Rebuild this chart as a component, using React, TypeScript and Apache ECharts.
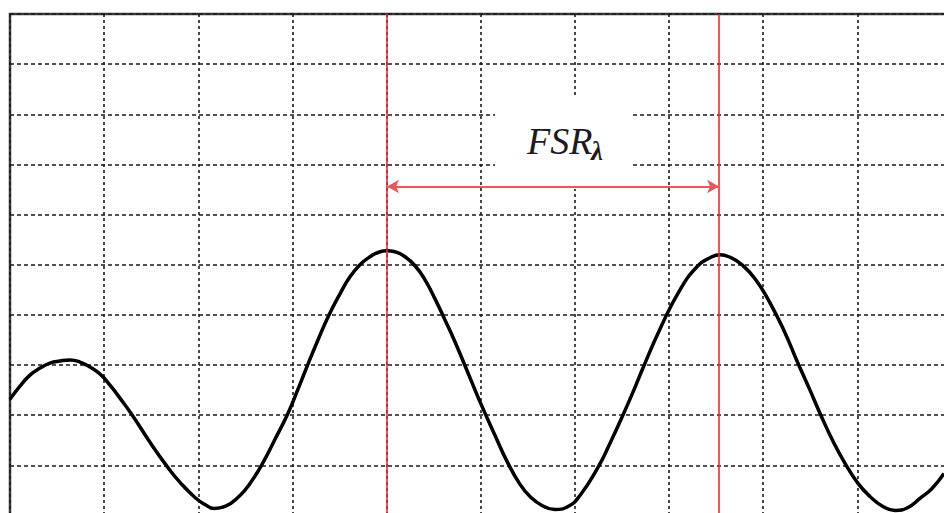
import React, { useEffect, useRef } from "react";
import * as echarts from "echarts";

// Horizontal position in screen divisions (0..10), vertical in divisions (0..10)
const traceX: number[] = [
  0, 0.106, 0.212, 0.319, 0.425, 0.531, 0.637, 0.743, 0.85, 0.956,
  1.062, 1.168, 1.306, 1.487, 1.668, 1.806, 1.965, 2.071, 2.167, 2.284,
  2.443, 2.549, 2.677, 2.815, 2.953, 3.059, 3.165, 3.271, 3.378, 3.505,
  3.611, 3.717, 3.824, 3.93, 4.004, 4.089, 4.195, 4.302, 4.408, 4.514,
  4.62, 4.727, 4.896, 5.003, 5.151, 5.279, 5.417, 5.523, 5.651, 5.789,
  5.927, 6.054, 6.245, 6.373, 6.5, 6.617, 6.723, 6.904, 7.116, 7.307,
  7.435, 7.541, 7.658, 7.775, 7.913, 8.072, 8.232, 8.359, 8.497, 8.603,
  8.731, 8.869, 9.007, 9.134, 9.272, 9.4, 9.538, 9.665, 9.793, 9.92,
];
const traceY: number[] = [
  2.32, 2.58, 2.8, 2.94, 3.04, 3.08, 3.1, 3.06, 2.96, 2.82,
  2.6, 2.34, 1.98, 1.46, 0.98, 0.66, 0.36, 0.22, 0.14, 0.18,
  0.4, 0.64, 1.02, 1.52, 2.04, 2.52, 3.02, 3.5, 3.96, 4.42,
  4.76, 5.0, 5.16, 5.26, 5.28, 5.26, 5.16, 4.98, 4.7, 4.32,
  3.9, 3.46, 2.7, 2.22, 1.6, 1.08, 0.62, 0.38, 0.2, 0.12,
  0.18, 0.4, 0.96, 1.44, 1.96, 2.46, 2.94, 3.72, 4.5, 4.98,
  5.14, 5.2, 5.14, 5.0, 4.72, 4.24, 3.64, 3.08, 2.5, 2.04,
  1.52, 1.04, 0.64, 0.38, 0.18, 0.1, 0.16, 0.34, 0.54, 0.84,
];

// Peak markers (divisions) and FSR arrow level (divisions)
const peakMarkers: number[] = [4.004, 7.531];
const fsrArrowLevel = 6.56;
const fsrLabel = "FSR";
const fsrSub = "λ";

export default function App() {
  const ref = useRef<HTMLDivElement>(null);
  useEffect(() => {
    if (!ref.current) return;
    const chart = echarts.init(ref.current, null, { renderer: "svg" });
    const data = traceX.map((x, i) => [x, traceY[i]]);
    const arrowColor = "#e9575b";
    chart.setOption({
      animation: false,
      backgroundColor: "#ffffff",
      grid: {
        show: true,
        left: 10,
        top: 14,
        width: 941.5,
        height: 501.5,
        outerBoundsMode: "none",
        containLabel: false,
        borderColor: "#3a3a3a",
        borderWidth: 2.5,
        backgroundColor: "transparent",
      },
      xAxis: {
        type: "value",
        min: 0,
        max: 10,
        interval: 1,
        axisLine: { show: false },
        axisTick: { show: false },
        axisLabel: { show: false },
        splitLine: {
          show: true,
          lineStyle: { color: "#1a1a1a", width: 1.6, type: [3, 3] },
        },
      },
      yAxis: {
        type: "value",
        min: 0,
        max: 10,
        interval: 1,
        axisLine: { show: false },
        axisTick: { show: false },
        axisLabel: { show: false },
        splitLine: {
          show: true,
          lineStyle: { color: "#1a1a1a", width: 1.6, type: [4, 3] },
        },
      },
      series: [
        {
          type: "line",
          data,
          showSymbol: false,
          smooth: 0.5,
          lineStyle: { color: "#000000", width: 3.5 },
          z: 3,
          markLine: {
            silent: true,
            animation: false,
            symbol: "none",
            label: { show: false },
            lineStyle: { color: "#ec2a30", width: 1.6, type: "solid" },
            data: [
              ...peakMarkers.map((x) => ({
                xAxis: x,
                symbol: "none",
                lineStyle: { color: "#ee2a30", width: 1.6, type: "solid" },
              })),
              [
                {
                  coord: [peakMarkers[0], fsrArrowLevel],
                  symbol: "arrow",
                  symbolSize: [10, 12],
                  itemStyle: { color: arrowColor },
                  lineStyle: { color: arrowColor, width: 2.2, type: "solid" },
                },
                {
                  coord: [peakMarkers[1], fsrArrowLevel],
                  symbol: "arrow",
                  symbolSize: [10, 12],
                  itemStyle: { color: arrowColor },
                },
              ],
            ],
          },
        },
      ],
      graphic: [
        {
          type: "rect",
          z: 1,
          shape: { x: 495, y: 98, width: 138, height: 91 },
          style: { fill: "#ffffff" },
        },
        {
          type: "text",
          z: 5,
          x: 527,
          y: 141,
          style: {
            text: fsrLabel,
            fontFamily: "Liberation Serif",
            fontStyle: "italic",
            fontSize: 38,
            fill: "#1b1b27",
            verticalAlign: "middle",
            align: "left",
          },
        },
        {
          type: "text",
          z: 5,
          x: 591,
          y: 151,
          style: {
            text: fsrSub,
            fontFamily: "Liberation Serif",
            fontStyle: "italic",
            fontWeight: "bold",
            fontSize: 27,
            fill: "#1b1b27",
            verticalAlign: "middle",
            align: "left",
          },
        },
      ],
    });
    return () => chart.dispose();
  }, []);
  return (
    <div
      ref={ref}
      style={{ position: "absolute", left: 0, top: 0, width: 944, height: 513 }}
    />
  );
}
